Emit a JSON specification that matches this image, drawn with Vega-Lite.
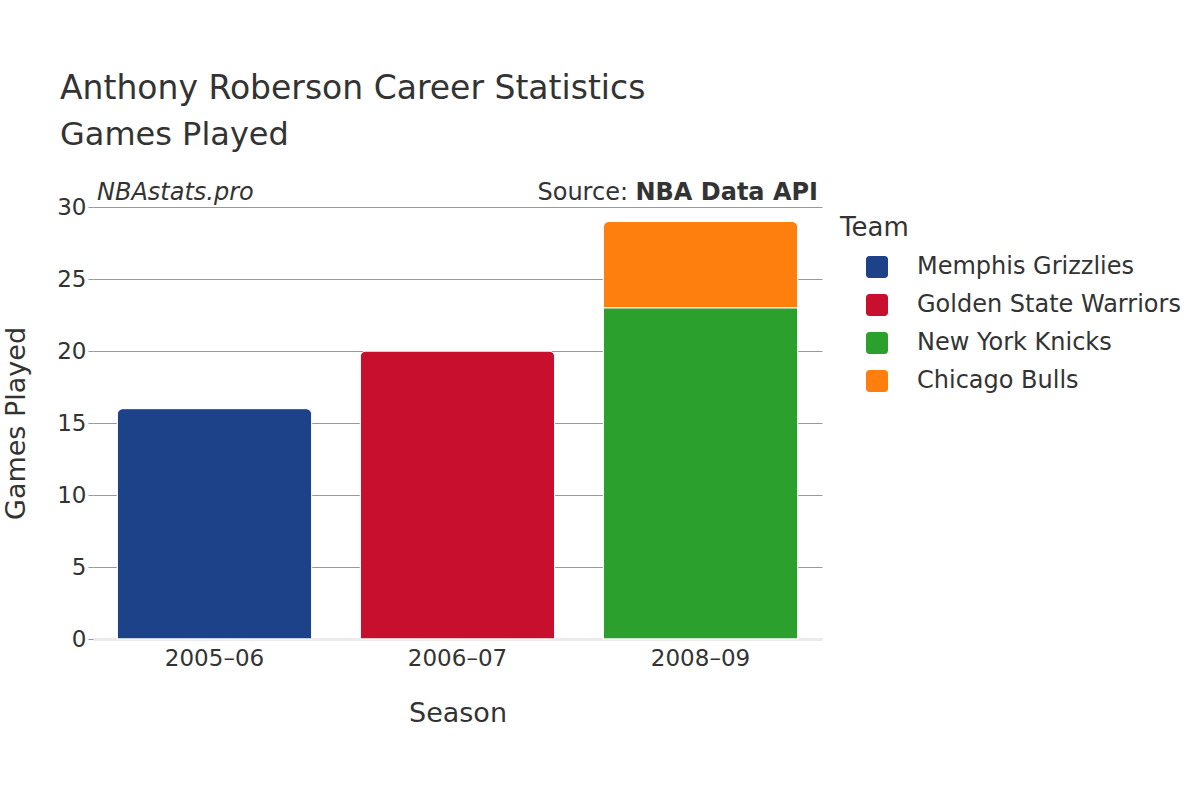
{
  "$schema": "https://vega.github.io/schema/vega-lite/v6.json",
  "width": 729,
  "height": 432,
  "autosize": {"type": "none"},
  "padding": {"left": 93, "top": 207, "right": 378, "bottom": 161},
  "background": "white",
  "config": {
    "font": "DejaVu Sans",
    "view": {"stroke": null},
    "text": {"color": "#333"}
  },
  "title": {
    "text": "Anthony Roberson Career Statistics",
    "subtitle": "Games Played",
    "anchor": "start",
    "frame": "group",
    "dx": -33,
    "offset": 30,
    "fontSize": 33,
    "fontWeight": "normal",
    "subtitleFontSize": 32,
    "color": "#333",
    "subtitleColor": "#333",
    "subtitlePadding": 14,
    "font": "DejaVu Sans",
    "subtitleFont": "DejaVu Sans"
  },
  "layer": [
    {
      "data": {
        "values": [
          {"Season": "2005–06", "Team": "Memphis Grizzlies", "Games": 16, "order": 1},
          {"Season": "2006–07", "Team": "Golden State Warriors", "Games": 20, "order": 1},
          {"Season": "2008–09", "Team": "New York Knicks", "Games": 23, "order": 1},
          {"Season": "2008–09", "Team": "Chicago Bulls", "Games": 6, "order": 2}
        ]
      },
      "mark": {"type": "bar", "cornerRadiusTopLeft": 6, "cornerRadiusTopRight": 6, "stroke": "white", "strokeWidth": 1},
      "encoding": {
        "x": {
          "field": "Season",
          "type": "nominal",
          "scale": {"paddingInner": 0.2, "paddingOuter": 0.1},
          "axis": {
            "labelAngle": 0,
            "labelFontSize": 23,
            "labelColor": "#333",
            "labelPadding": 8,
            "ticks": false,
            "domainColor": "#ebebeb",
            "domainWidth": 3,
            "title": "Season",
            "titleFontSize": 27,
            "titleFontWeight": "normal",
            "titleColor": "#333",
            "titlePadding": 30
          }
        },
        "y": {
          "field": "Games",
          "type": "quantitative",
          "stack": "zero",
          "scale": {"domain": [0, 30]},
          "axis": {
            "values": [0, 5, 10, 15, 20, 25, 30],
            "labelFontSize": 23,
            "labelColor": "#333",
            "labelPadding": 2,
            "tickSize": 5,
            "tickColor": "#999",
            "domain": false,
            "gridColor": {"condition": {"test": "datum.value === 0", "value": "#ebebeb"}, "value": "#999"},
            "gridWidth": {"condition": {"test": "datum.value === 0", "value": 3}, "value": 1},
            "title": "Games Played",
            "titleFontSize": 27,
            "titleFontWeight": "normal",
            "titleColor": "#333",
            "titlePadding": 26
          }
        },
        "order": {"field": "order"},
        "color": {
          "field": "Team",
          "type": "nominal",
          "scale": {
            "domain": ["Memphis Grizzlies", "Golden State Warriors", "New York Knicks", "Chicago Bulls"],
            "range": ["#1d428a", "#c8102e", "#2ca02c", "#ff7f0e"]
          },
          "legend": {
            "title": "Team",
            "titleFontSize": 26,
            "titleFontWeight": "normal",
            "titleColor": "#333",
            "titlePadding": 14,
            "labelFontSize": 24,
            "labelColor": "#333",
            "labelLimit": 400,
            "labelOffset": 28,
            "symbolOffset": 25,
            "symbolType": "M-0.7,-1 h1.4 a0.3,0.3 0 0 1 0.3,0.3 v1.4 a0.3,0.3 0 0 1 -0.3,0.3 h-1.4 a0.3,0.3 0 0 1 -0.3,-0.3 v-1.4 a0.3,0.3 0 0 1 0.3,-0.3 z",
            "symbolSize": 484,
            "symbolStrokeWidth": 0,
            "symbolOpacity": 1,
            "rowPadding": 14,
            "offset": 10,
            "padding": 8
          }
        }
      }
    },
    {
      "data": {"values": [{"label": "NBAstats.pro"}]},
      "mark": {"type": "text", "fontStyle": "italic", "fontSize": 24, "align": "left", "baseline": "alphabetic", "dx": 4, "dy": -7, "color": "#333"},
      "encoding": {
        "x": {"value": 0},
        "y": {"datum": 30, "type": "quantitative"},
        "text": {"field": "label"}
      }
    },
    {
      "data": {"values": [{"label": "NBA Data API"}]},
      "mark": {"type": "text", "fontWeight": "bold", "fontSize": 24, "align": "right", "baseline": "alphabetic", "dx": -4, "dy": -7, "color": "#333"},
      "encoding": {
        "x": {"value": {"expr": "width"}},
        "y": {"datum": 30, "type": "quantitative"},
        "text": {"field": "label"}
      }
    },
    {
      "data": {"values": [{"label": "Source:"}]},
      "mark": {"type": "text", "fontSize": 24, "align": "right", "baseline": "alphabetic", "dx": -194, "dy": -7, "color": "#333"},
      "encoding": {
        "x": {"value": {"expr": "width"}},
        "y": {"datum": 30, "type": "quantitative"},
        "text": {"field": "label"}
      }
    }
  ]
}
